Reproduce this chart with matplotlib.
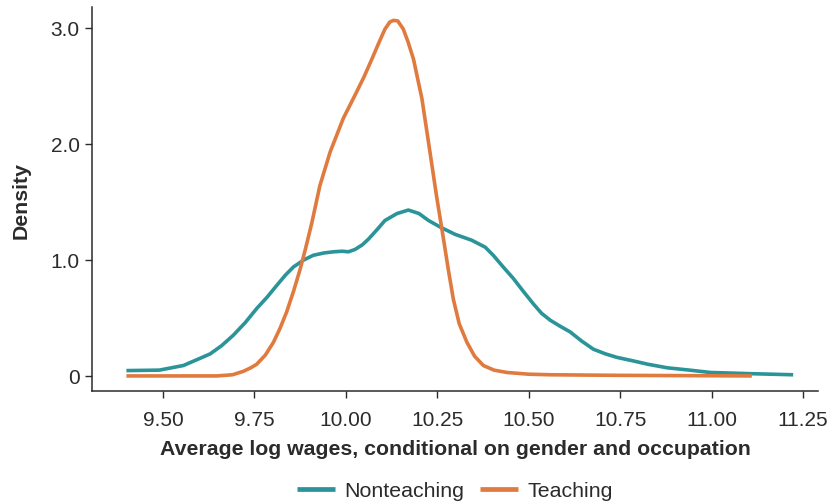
import matplotlib
matplotlib.use("Agg")
import matplotlib.pyplot as plt
import numpy as np

plt.rcParams['font.family'] = ['Liberation Sans', 'DejaVu Sans']

# Nonteaching density curve (x = average log wage, y = density)
nonteach_x = [9.40, 9.49, 9.556, 9.60, 9.629, 9.66, 9.692, 9.725, 9.756, 9.785, 9.811, 9.835,
              9.857, 9.885, 9.911, 9.94, 9.966, 9.99, 10.007, 10.025, 10.045, 10.062, 10.085,
              10.107, 10.14, 10.171, 10.20, 10.226, 10.26, 10.299, 10.344, 10.381, 10.403,
              10.43, 10.458, 10.485, 10.513, 10.535, 10.559, 10.585, 10.613, 10.645, 10.677,
              10.71, 10.741, 10.785, 10.827, 10.879, 10.94, 10.996, 11.10, 11.223]
nonteach_y = [0.046, 0.05, 0.09, 0.15, 0.19, 0.26, 0.35, 0.46, 0.58, 0.68, 0.78, 0.87,
              0.94, 1.00, 1.04, 1.06, 1.07, 1.075, 1.07, 1.09, 1.13, 1.18, 1.26,
              1.34, 1.40, 1.43, 1.40, 1.34, 1.28, 1.22, 1.17, 1.11, 1.04,
              0.94, 0.84, 0.73, 0.62, 0.54, 0.48, 0.43, 0.38, 0.30, 0.23,
              0.19, 0.16, 0.13, 0.10, 0.07, 0.05, 0.03, 0.02, 0.01]

# Teaching density curve
teach_x = [9.40, 9.55, 9.647, 9.69, 9.72, 9.74, 9.756, 9.78, 9.802, 9.82, 9.838, 9.857, 9.875,
           9.89, 9.907, 9.929, 9.957, 9.993, 10.025, 10.05, 10.071, 10.09, 10.107, 10.12,
           10.13, 10.142, 10.157, 10.17, 10.185, 10.208, 10.23, 10.248, 10.267, 10.28,
           10.294, 10.31, 10.331, 10.352, 10.376, 10.405, 10.44, 10.50, 10.559, 10.75, 11.11]
teach_y = [0.0, 0.0, 0.0, 0.01, 0.04, 0.07, 0.10, 0.18, 0.29, 0.41, 0.55, 0.73, 0.92,
           1.10, 1.32, 1.64, 1.93, 2.22, 2.42, 2.58, 2.73, 2.87, 2.99, 3.05,
           3.065, 3.06, 2.99, 2.88, 2.73, 2.39, 1.93, 1.55, 1.18, 0.92,
           0.66, 0.45, 0.29, 0.17, 0.09, 0.05, 0.03, 0.015, 0.01, 0.005, 0.0]

series_labels = ["Nonteaching", "Teaching"]
x_ticks = [9.50, 9.75, 10.00, 10.25, 10.50, 10.75, 11.00, 11.25]
x_ticklabels = ["9.50", "9.75", "10.00", "10.25", "10.50", "10.75", "11.00", "11.25"]
y_ticks = [0, 1, 2, 3]
y_ticklabels = ["0", "1.0", "2.0", "3.0"]

teal = "#2A9499"
orange = "#E07A3E"
ink = "#2b2b2b"

fig = plt.figure(figsize=(8.32, 5.02), dpi=100)
ax = fig.add_axes([0.1106, 0.2191, 0.9832 - 0.1106, 0.984 - 0.2191])

ax.plot(nonteach_x, nonteach_y, color=teal, lw=2.6, label=series_labels[0],
        solid_capstyle='butt', solid_joinstyle='round')
ax.plot(teach_x, teach_y, color=orange, lw=2.6, label=series_labels[1],
        solid_capstyle='butt', solid_joinstyle='round')

ax.set_xlim(9.306, 11.291)
ax.set_ylim(-0.13, 3.18)
ax.set_xticks(x_ticks)
ax.set_xticklabels(x_ticklabels)
ax.set_yticks(y_ticks)
ax.set_yticklabels(y_ticklabels)

for s in ['top', 'right']:
    ax.spines[s].set_visible(False)
for s in ['left', 'bottom']:
    ax.spines[s].set_color(ink)
    ax.spines[s].set_linewidth(1.1)

ax.tick_params(axis='both', colors=ink, labelcolor=ink, length=5, width=1.0,
               labelsize=15)
ax.tick_params(axis='x', pad=9)
ax.tick_params(axis='y', pad=4)

ax.set_xlabel("Average log wages, conditional on gender and occupation",
              fontsize=15.3, fontweight='bold', color=ink, labelpad=7)
ax.set_ylabel("Density", fontsize=15.3, fontweight='bold', color=ink, labelpad=14)

leg = ax.legend(loc='center', bbox_to_anchor=(0.5, -0.26), ncol=2, frameon=False,
                fontsize=15.4, handlelength=1.78, columnspacing=0.75, handletextpad=0.42)
for line in leg.get_lines():
    line.set_linewidth(3.4)
for t in leg.get_texts():
    t.set_color(ink)

fig.savefig("out.png", dpi=100)
